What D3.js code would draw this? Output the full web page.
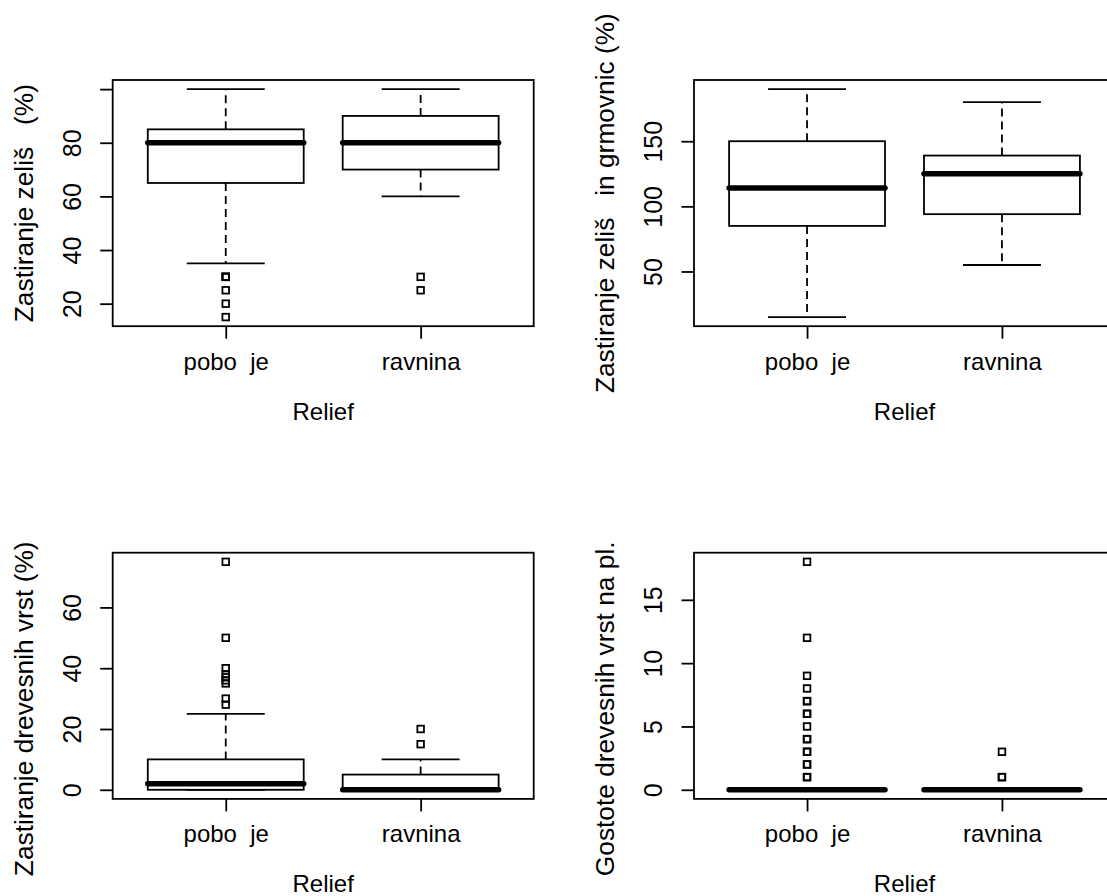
<!DOCTYPE html>
<html lang="sl">
<head>
    <meta charset="utf-8"/>
    <title>Relief</title>
    <script src="https://d3js.org/d3.v7.min.js"></script>
    <style>
        body {
            margin: 0;
            background: #fff;
        }

        svg {
            display: block;
            font-family: "Liberation Sans", Arial, sans-serif;
            font-size: 24px;
        }

        text {
            white-space: pre;
            fill: #000;
        }
    </style>
</head>
<body>
<svg width="1107" height="896"></svg>
<script>
    // groups on the x axis
    const groups = ["pobo  je", "ravnina"];
    const xTitle = "Relief";

    // zastiranje zelišč (%)
    const herbLow = [35, 60];
    const herbQ1 = [65, 70];
    const herbMed = [80, 80];
    const herbQ3 = [85, 90];
    const herbHigh = [100, 100];
    const herbOut = [[30, 30, 30, 25, 20, 15], [30, 25]];
    const herbTicks = [20, 40, 60, 80, 100];
    const herbTickLabels = ["20", "40", "60", "80", ""];

    // zastiranje zelišč in grmovnic (%)
    const shrubLow = [15, 55];
    const shrubQ1 = [85, 94];
    const shrubMed = [114, 125];
    const shrubQ3 = [150, 139];
    const shrubHigh = [190, 180];
    const shrubOut = [[], []];
    const shrubTicks = [50, 100, 150];
    const shrubTickLabels = ["50", "100", "150"];

    // zastiranje drevesnih vrst (%)
    const treeLow = [0, 0];
    const treeQ1 = [0, 0];
    const treeMed = [2, 0];
    const treeQ3 = [10, 5];
    const treeHigh = [25, 10];
    const treeOut = [[75, 50, 40, 38, 37, 36, 35, 30, 28], [20, 15]];
    const treeTicks = [0, 20, 40, 60];
    const treeTickLabels = ["0", "20", "40", "60"];

    // gostota drevesnih vrst na ploskev
    const densLow = [0, 0];
    const densQ1 = [0, 0];
    const densMed = [0, 0];
    const densQ3 = [0, 0];
    const densHigh = [0, 0];
    const densOut = [[18, 12, 9, 8, 7, 7, 6, 6, 5, 4, 4, 3, 3, 2, 2, 1, 1], [3, 1, 1]];
    const densTicks = [0, 5, 10, 15];
    const densTickLabels = ["0", "5", "10", "15"];

    function stats(low, q1, med, q3, high, out) {
        return groups.map((g, i) => ({
            idx: i + 1, low: low[i], q1: q1[i], med: med[i], q3: q3[i], high: high[i], out: out[i]
        }));
    }

    // titleShift moves the y title down from the plot centre
    const panels = [
        {
            title: "Zastiranje zeliš   (%)", boxes: stats(herbLow, herbQ1, herbMed, herbQ3, herbHigh, herbOut),
            ticks: herbTicks, tickLabels: herbTickLabels, left: 112.7, top: 80, titleShift: 0
        },
        {
            title: "Zastiranje zeliš   in grmovnic (%)", boxes: stats(shrubLow, shrubQ1, shrubMed, shrubQ3, shrubHigh, shrubOut),
            ticks: shrubTicks, tickLabels: shrubTickLabels, left: 694, top: 80, titleShift: 0
        },
        {
            title: "Zastiranje drevesnih vrst (%)", boxes: stats(treeLow, treeQ1, treeMed, treeQ3, treeHigh, treeOut),
            ticks: treeTicks, tickLabels: treeTickLabels, left: 112.7, top: 552.7, titleShift: 33
        },
        {
            title: "Gostote drevesnih vrst na pl.", boxes: stats(densLow, densQ1, densMed, densQ3, densHigh, densOut),
            ticks: densTicks, tickLabels: densTickLabels, left: 694, top: 552.7, titleShift: 33
        }
    ];

    const plotWidth = 421;
    const plotHeight = 246.2;
    const tickLen = 12.5;
    const lineW = 1.8;

    const svg = d3.select("svg");

    function drawPanel(p) {
        const g = svg.append("g").attr("transform", `translate(${p.left},${p.top})`);

        // R style range: data range padded by 4% on each side
        const vals = p.boxes.flatMap(b => [b.low, b.high, ...b.out]);
        const lo = d3.min(vals), hi = d3.max(vals);
        const pad = (hi - lo) * 0.04;
        const y = d3.scaleLinear().domain([lo - pad, hi + pad]).range([plotHeight, 0]);
        const x = d3.scaleLinear().domain([0.42, 2.58]).range([0, plotWidth]);

        // whiskers
        const whisk = g.append("g")
            .attr("stroke", "#000")
            .attr("stroke-width", lineW)
            .attr("stroke-dasharray", "8,5");
        whisk.selectAll(".upper").data(p.boxes).enter().append("line")
            .attr("x1", d => x(d.idx)).attr("x2", d => x(d.idx))
            .attr("y1", d => y(d.q3)).attr("y2", d => y(d.high));
        whisk.selectAll(".lower").data(p.boxes).enter().append("line")
            .attr("x1", d => x(d.idx)).attr("x2", d => x(d.idx))
            .attr("y1", d => y(d.q1)).attr("y2", d => y(d.low));

        // staples
        const staple = g.append("g").attr("stroke", "#000").attr("stroke-width", lineW);
        ["low", "high"].forEach(k => {
            staple.selectAll(".s" + k).data(p.boxes).enter().append("line")
                .attr("x1", d => x(d.idx - 0.2)).attr("x2", d => x(d.idx + 0.2))
                .attr("y1", d => y(d[k])).attr("y2", d => y(d[k]));
        });

        // boxes
        g.selectAll(".box").data(p.boxes).enter().append("rect")
            .attr("x", d => x(d.idx - 0.4))
            .attr("width", d => x(d.idx + 0.4) - x(d.idx - 0.4))
            .attr("y", d => y(d.q3))
            .attr("height", d => y(d.q1) - y(d.q3))
            .attr("fill", "#fff")
            .attr("stroke", "#000")
            .attr("stroke-width", lineW);

        // medians
        g.selectAll(".med").data(p.boxes).enter().append("line")
            .attr("x1", d => x(d.idx - 0.4)).attr("x2", d => x(d.idx + 0.4))
            .attr("y1", d => y(d.med)).attr("y2", d => y(d.med))
            .attr("stroke", "#000")
            .attr("stroke-width", 5.5)
            .attr("stroke-linecap", "round");

        // outliers
        const pts = p.boxes.flatMap(b => b.out.map(v => ({idx: b.idx, v: v})));
        g.selectAll(".out").data(pts).enter().append("rect")
            .attr("x", d => x(d.idx) - 3.3)
            .attr("y", d => y(d.v) - 3.3)
            .attr("width", 6.6).attr("height", 6.6)
            .attr("fill", "none")
            .attr("stroke", "#000")
            .attr("stroke-width", 1.8);

        // frame
        g.append("rect")
            .attr("width", plotWidth).attr("height", plotHeight)
            .attr("fill", "none").attr("stroke", "#000").attr("stroke-width", lineW);

        // y axis, labels parallel to the axis
        const yAxis = g.append("g")
            .call(d3.axisLeft(y).tickValues(p.ticks).tickSize(tickLen)
                .tickFormat((d, i) => p.tickLabels[i]));
        yAxis.select(".domain").remove();
        yAxis.selectAll("line").attr("stroke-width", lineW);
        yAxis.selectAll("text")
            .attr("transform", "rotate(-90)")
            .attr("x", 0).attr("y", -32).attr("dy", null)
            .attr("text-anchor", "middle")
            .attr("font-size", 25).attr("font-family", null);

        // x axis
        const xAxis = g.append("g")
            .attr("transform", `translate(0,${plotHeight})`)
            .call(d3.axisBottom(x).tickValues([1, 2]).tickSize(tickLen)
                .tickFormat((d, i) => groups[i]));
        xAxis.select(".domain").remove();
        xAxis.selectAll("line").attr("stroke-width", lineW);
        xAxis.selectAll("text")
            .attr("y", 43.5).attr("dy", null)
            .attr("font-size", 24).attr("font-family", null);

        // titles
        g.append("text")
            .attr("x", plotWidth / 2).attr("y", plotHeight + 93.5)
            .attr("text-anchor", "middle")
            .text(xTitle);
        g.append("text")
            .attr("transform", `translate(-80,${plotHeight / 2 + p.titleShift}) rotate(-90)`)
            .attr("text-anchor", "middle")
            .attr("font-size", 26.3)
            .text(p.title);
    }

    panels.forEach(drawPanel);
</script>
</body>
</html>
